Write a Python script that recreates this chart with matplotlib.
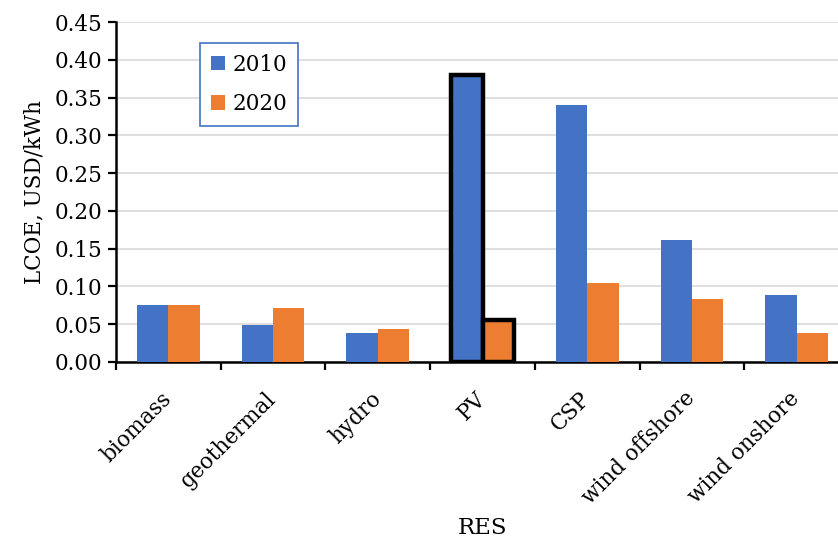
import numpy as np
import matplotlib
matplotlib.use("Agg")
import matplotlib.pyplot as plt

plt.rcParams['font.family'] = ['DejaVu Serif']

categories = ['biomass', 'geothermal', 'hydro', 'PV', 'CSP', 'wind offshore', 'wind onshore']
lcoe_2010 = [0.076, 0.049, 0.038, 0.380, 0.340, 0.162, 0.089]
lcoe_2020 = [0.076, 0.071, 0.044, 0.056, 0.105, 0.084, 0.039]
highlight = 'PV'

blue = '#4472C4'
orange = '#ED7D31'
fs = 15.5

fig = plt.figure(figsize=(8.38, 5.43), dpi=100)
ax = fig.add_axes([116/838, 181/543, 733/838, 340/543])

x = np.arange(len(categories))
w = 0.3
b1 = ax.bar(x - w/2, lcoe_2010, w, color=blue, label='2010', zorder=3)
b2 = ax.bar(x + w/2, lcoe_2020, w, color=orange, label='2020', zorder=3)

# black frame around the highlighted category
i = categories.index(highlight)
for b in (b1[i], b2[i]):
    b.set_edgecolor('black')
    b.set_linewidth(3.2)
    b.set_zorder(4)

ax.set_xlim(-0.5, len(categories) - 0.5)
ax.set_ylim(0, 0.45)
yt = np.arange(0, 0.451, 0.05)
ax.set_yticks(yt)
ax.set_yticklabels([f'{v:.2f}' for v in yt])
ax.yaxis.grid(True, color='#d9d9d9', linewidth=1.2, zorder=0)
ax.set_axisbelow(True)

ax.set_xticks(x)
ax.set_xticklabels(categories, rotation=45, ha='right', va='center', rotation_mode='anchor')
ax.set_xticks(np.arange(-0.5, len(categories)), minor=True)
ax.tick_params(axis='x', which='major', length=0, pad=24, labelsize=fs)
ax.tick_params(axis='x', which='minor', length=6, width=1.6, direction='out')
ax.tick_params(axis='y', length=6, width=1.6, direction='out', labelsize=fs, pad=4)

for s in ['top', 'right']:
    ax.spines[s].set_visible(False)
for s in ['left', 'bottom']:
    ax.spines[s].set_linewidth(1.8)

ax.set_ylabel('LCOE, USD/kWh', fontsize=fs, labelpad=6)
ax.set_xlabel('RES', fontsize=16.5, labelpad=6)

leg = ax.legend(loc='upper left', bbox_to_anchor=(0.1146, 0.938), borderaxespad=0,
                fancybox=False, edgecolor=blue, fontsize=fs, handlelength=0.65,
                handleheight=0.65, labelspacing=0.8, handletextpad=0.35,
                borderpad=0.5, framealpha=1)
leg.get_frame().set_linewidth(1.2)

fig.savefig('out.png', dpi=100)
